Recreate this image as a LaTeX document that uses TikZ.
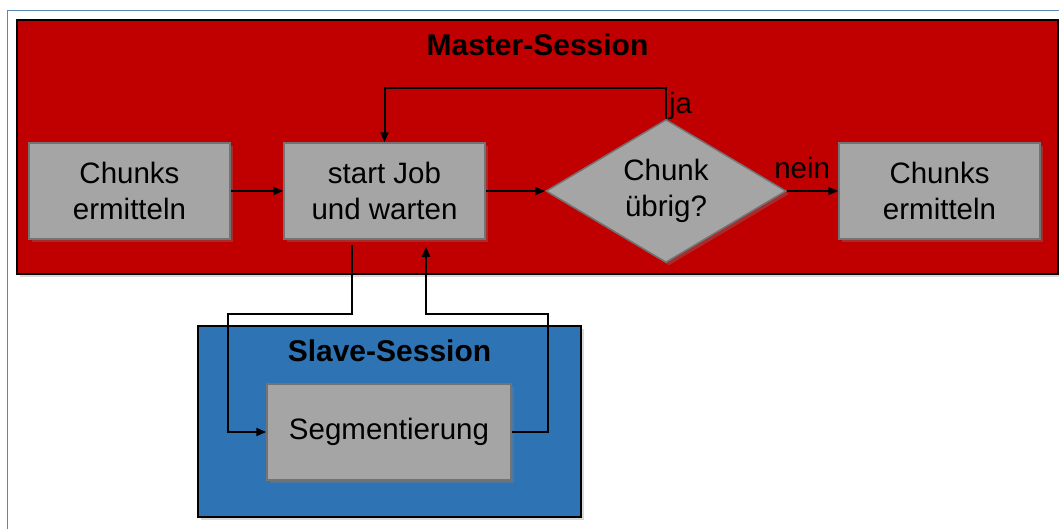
\documentclass[tikz,border=0pt]{standalone}
\usepackage{fontspec}
\setmainfont{Liberation Sans}
\usepackage{tikz}
\usetikzlibrary{arrows.meta, positioning, shapes.geometric, shadows}

\definecolor{masterred}{HTML}{C00000}
\definecolor{slaveblue}{HTML}{2E74B5}
\definecolor{boxgray}{HTML}{A5A5A5}
\definecolor{framesteel}{HTML}{5B88B6}

\begin{document}
\begin{tikzpicture}[x=1pt,y=1pt,on grid,>={Triangle[length=10pt,width=8pt]},
        every node/.style={font=\fontsize{29.5}{36}\selectfont},
        process/.style={rectangle,draw=gray!90!black,fill=boxgray,line width=1.5pt,
            minimum width=201pt,minimum height=96pt,align=center,
            drop shadow={shadow xshift=3pt,shadow yshift=-3pt,opacity=.35}},
        decision/.style={diamond,draw=gray!90!black,fill=boxgray,line width=1.5pt,
            minimum width=240pt,minimum height=143pt,aspect=1.7,inner sep=0pt,align=center,
            drop shadow={shadow xshift=3pt,shadow yshift=-3pt,opacity=.35}},
        session/.style={rectangle,draw=black,line width=2pt,inner sep=0pt,
            drop shadow={shadow xshift=3pt,shadow yshift=-3pt,opacity=.3}},
        sessiontitle/.style={font=\fontsize{30}{36}\selectfont\bfseries},
        flow/.style={->,line width=2pt}]

    \useasboundingbox (0,0) rectangle (1059,-528);
    \draw[framesteel,line width=1pt] (7.5,-10.5) rectangle (1075,-545);

    % sessions
    \node[session,fill=masterred,minimum width=1041pt,minimum height=254pt] (master) at (537.5,-147) {};
    \node[sessiontitle] (mastertitle) at ([yshift=-26pt]master.north) {Master-Session};
    \node[session,fill=slaveblue,minimum width=383pt,minimum height=191pt] (slave) at (389.5,-421.5) {};
    \node[sessiontitle] (slavetitle) at ([yshift=-26pt]slave.north) {Slave-Session};

    % steps
    \node[process] (chunksA) at (129.5,-191) {Chunks\\ermitteln};
    \node[process] (startjob) [right=255pt of chunksA] {start Job\\und warten};
    \node[decision] (remaining) [right=281.5pt of startjob] {Chunk\\übrig?};
    \node[process] (chunksB) [right=273.5pt of remaining] {Chunks\\ermitteln};
    \node[process,minimum width=244pt] (segment) at (389,-432) {Segmentierung};

    \draw[flow] (chunksA) -- (startjob);
    \draw[flow] (startjob) -- (remaining);
    \draw[flow] (remaining.east) -- node[above,pos=.3,inner sep=2pt,yshift=9pt] {nein} (chunksB.west);
    \draw[flow] (remaining.north) -- node[right,inner sep=2pt,yshift=-3pt] {ja} ++(0,31pt) -| (startjob.north);

    \draw[flow] ([xshift=-32.5pt,yshift=-5pt]startjob.south) -- ++(0,-69pt)
        -| ([xshift=-38pt]segment.west) -- (segment.west);
    \draw[flow] (segment.east) -- ++(36pt,0) |- ([xshift=41.5pt,yshift=-74pt]startjob.south)
        -- ([xshift=41.5pt,yshift=-7pt]startjob.south);
\end{tikzpicture}
\end{document}
